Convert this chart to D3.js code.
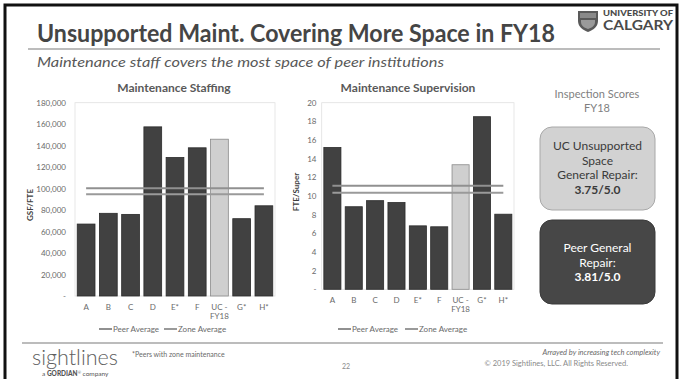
<!DOCTYPE html>
<html>
<head>
<meta charset="utf-8">
<script src="https://cdn.jsdelivr.net/npm/d3@7"></script>
<style>
  html, body { margin: 0; padding: 0; background: #fff; }
  svg { display: block; }
  text { font-family: Lato, "Open Sans", "Noto Sans", sans-serif; }
</style>
</head>
<body>
<svg id="slide" width="683" height="379"></svg>
<script>
// ---- data ----
const categories = ["A", "B", "C", "D", "E*", "F", "UC - FY18", "G*", "H*"];
const highlight = "UC - FY18";
const staffing = [67000, 77000, 76000, 157500, 129000, 138000, 146000, 72000, 84000];
const staffingPeerAvg = 100300;
const staffingZoneAvg = 94700;
const staffingTicks = [0, 20000, 40000, 60000, 80000, 100000, 120000, 140000, 160000, 180000];
const supervision = [15.2, 8.85, 9.5, 9.3, 6.8, 6.7, 13.35, 18.5, 8.05];
const supervisionPeerAvg = 11.1;
const supervisionZoneAvg = 10.35;
const supervisionTicks = [0, 2, 4, 6, 8, 10, 12, 14, 16, 18, 20];
const legendItems = ["Peer Average", "Zone Average"];
const ucScore = "3.75/5.0";
const peerScore = "3.81/5.0";

const svg = d3.select("#slide");

// ---- slide frame ----
svg.append("path")
  .attr("d", "M5,379 V5 H677 V379")
  .attr("fill", "none").attr("stroke", "#111").attr("stroke-width", 3);

// ---- header ----
svg.append("text")
  .attr("x", 37).attr("y", 42)
  .attr("font-size", 24).attr("font-weight", 700).attr("fill", "#454545")
  .attr("textLength", 518).attr("lengthAdjust", "spacingAndGlyphs")
  .text("Unsupported Maint. Covering More Space in FY18");
svg.append("line")
  .attr("x1", 28).attr("x2", 660).attr("y1", 49).attr("y2", 49)
  .attr("stroke", "#a6a6a6").attr("stroke-width", 1.5);
svg.append("text")
  .attr("x", 37).attr("y", 67)
  .attr("font-size", 14).attr("font-style", "italic").attr("fill", "#595959")
  .attr("textLength", 407).attr("lengthAdjust", "spacingAndGlyphs")
  .text("Maintenance staff covers the most space of peer institutions");

// university logo: crest and wordmark
const logo = svg.append("g");
logo.append("path")
  .attr("d", "M578,11 H598 V21 C598,27 593,30 588,32 C583,30 578,27 578,21 Z")
  .attr("fill", "#5a5a5a");
logo.append("rect").attr("x", 580).attr("y", 13).attr("width", 16).attr("height", 5).attr("fill", "#8a8a8a");
logo.append("path")
  .attr("d", "M581,20 H595 V22 C595,26 591,28 588,29 C585,28 581,26 581,22 Z")
  .attr("fill", "#9a9a9a");
logo.append("text")
  .attr("x", 603).attr("y", 15.5)
  .attr("font-size", 7.5).attr("font-weight", 900).attr("fill", "#4a4a4a")
  .attr("textLength", 70).attr("lengthAdjust", "spacingAndGlyphs")
  .text("UNIVERSITY OF");
logo.append("text")
  .attr("x", 603).attr("y", 30)
  .attr("font-size", 12.5).attr("font-weight", 700).attr("fill", "#4a4a4a")
  .attr("textLength", 70).attr("lengthAdjust", "spacingAndGlyphs")
  .text("CALGARY");

// ---- bar chart builder ----
function barChart(cfg) {
  const g = svg.append("g");
  const x = d3.scaleBand().domain(categories).range([cfg.x0, cfg.x1]).paddingInner(0.2).paddingOuter(0.1);
  const y = d3.scaleLinear().domain([0, cfg.max]).range([cfg.y0, cfg.y1]);

  // plot area outline
  g.append("rect")
    .attr("x", cfg.x0).attr("y", cfg.y1)
    .attr("width", cfg.x1 - cfg.x0).attr("height", cfg.y0 - cfg.y1)
    .attr("fill", "none").attr("stroke", "#e0e0e0").attr("stroke-width", 0.8);

  // title
  g.append("text")
    .attr("x", cfg.titleX).attr("y", 92).attr("text-anchor", "middle")
    .attr("font-size", 12).attr("font-weight", 700).attr("fill", "#595959")
    .text(cfg.title);

  // y axis
  const yAxis = d3.axisLeft(y).tickValues(cfg.ticks).tickSize(0).tickPadding(0)
    .tickFormat(v => v === 0 ? "-" : cfg.fmt(v));
  const ya = g.append("g").attr("transform", `translate(${cfg.tickX},0)`).call(yAxis);
  ya.select(".domain").remove();
  ya.selectAll("text").attr("font-size", 8).attr("fill", "#6a6a6a")
    .attr("font-family", "Lato, 'Open Sans', sans-serif");

  g.append("text")
    .attr("transform", `translate(${cfg.labelX},${cfg.labelY}) rotate(-90)`)
    .attr("text-anchor", "middle")
    .attr("font-size", 8).attr("font-weight", 700).attr("fill", "#404040")
    .text(cfg.yLabel);

  // bars
  g.selectAll("rect.bar").data(cfg.values).join("rect")
    .attr("class", "bar")
    .attr("x", (d, i) => x(categories[i]))
    .attr("width", x.bandwidth())
    .attr("y", d => y(d))
    .attr("height", d => y(0) - y(d))
    .attr("fill", (d, i) => categories[i] === highlight ? "#cfcfcf" : "#414141")
    .attr("stroke", (d, i) => categories[i] === highlight ? "#8a8a8a" : "#2b2b2b")
    .attr("stroke-width", 0.8);

  // average lines from first to last category centre
  const cx0 = x(categories[0]) + x.bandwidth() / 2;
  const cx1 = x(categories[categories.length - 1]) + x.bandwidth() / 2;
  [[cfg.peer, "#909090"], [cfg.zone, "#9a9a9a"]].forEach(([v, c]) => {
    g.append("line")
      .attr("x1", cx0).attr("x2", cx1).attr("y1", y(v)).attr("y2", y(v))
      .attr("stroke", c).attr("stroke-width", 2);
  });

  // x axis labels (multi-line)
  const xAxis = d3.axisBottom(x).tickSize(0).tickPadding(0);
  const xa = g.append("g").attr("transform", `translate(0,${cfg.xLabelY})`).call(xAxis);
  xa.select(".domain").remove();
  xa.selectAll("text")
    .attr("font-size", 8).attr("fill", "#6a6a6a").attr("dy", 0)
    .attr("font-family", "Lato, 'Open Sans', sans-serif")
    .each(function(d) {
      const t = d3.select(this);
      const parts = d.split(" - ");
      if (parts.length > 1) {
        t.text(null);
        t.append("tspan").attr("x", 0).attr("dy", 0).text(parts[0] + " -");
        t.append("tspan").attr("x", 0).attr("dy", 9).text(parts[1]);
      }
    });

  // legend
  const lg = g.append("g").attr("transform", `translate(0,${cfg.legendY})`);
  legendItems.forEach((name, i) => {
    const lx = cfg.legendX[i];
    lg.append("line").attr("x1", lx).attr("x2", lx + 13).attr("y1", 0).attr("y2", 0)
      .attr("stroke", i === 0 ? "#909090" : "#9a9a9a").attr("stroke-width", 2);
    lg.append("text").attr("x", lx + 14).attr("y", 3)
      .attr("font-size", 8).attr("fill", "#6a6a6a").text(name);
  });
}

barChart({
  title: "Maintenance Staffing", titleX: 174,
  values: staffing, peer: staffingPeerAvg, zone: staffingZoneAvg,
  max: 180000, ticks: staffingTicks, fmt: d3.format(","),
  x0: 75, x1: 275, y0: 296, y1: 102.7,
  tickX: 66, labelX: 33, labelY: 205, yLabel: "GSF/FTE",
  xLabelY: 309.5, legendY: 329, legendX: [99, 164]
});

barChart({
  title: "Maintenance Supervision", titleX: 408,
  values: supervision, peer: supervisionPeerAvg, zone: supervisionZoneAvg,
  max: 20, ticks: supervisionTicks, fmt: d3.format("d"),
  x0: 321.7, x1: 514, y0: 289.3, y1: 102.7,
  tickX: 316.5, labelX: 299, labelY: 192, yLabel: "FTE/Super",
  xLabelY: 303, legendY: 329, legendX: [338, 405]
});

// ---- inspection score panel ----
const panel = svg.append("g");
panel.append("text").attr("x", 597).attr("y", 98).attr("text-anchor", "middle")
  .attr("font-size", 11).attr("fill", "#7f7f7f").text("Inspection Scores");
panel.append("text").attr("x", 597).attr("y", 112).attr("text-anchor", "middle")
  .attr("font-size", 11).attr("fill", "#7f7f7f").text("FY18");

panel.append("rect").attr("x", 540).attr("y", 127).attr("width", 115).attr("height", 83)
  .attr("rx", 12).attr("fill", "#d2d2d2").attr("stroke", "#a8a8a8").attr("stroke-width", 1);
[["UC Unsupported", 150, 400], ["Space", 165, 400], ["General Repair:", 179, 400], [ucScore, 194, 700]]
  .forEach(([t, yy, w]) => panel.append("text").attr("x", 597.5).attr("y", yy)
    .attr("text-anchor", "middle").attr("font-size", 12).attr("font-weight", w)
    .attr("fill", "#3a3a3a").text(t));

panel.append("rect").attr("x", 540).attr("y", 220).attr("width", 115).attr("height", 84)
  .attr("rx", 12).attr("fill", "#474747").attr("stroke", "#3a3a3a").attr("stroke-width", 1);
[["Peer General", 252, 400], ["Repair:", 267, 400], [peerScore, 281, 700]]
  .forEach(([t, yy, w]) => panel.append("text").attr("x", 597.5).attr("y", yy)
    .attr("text-anchor", "middle").attr("font-size", 12).attr("font-weight", w)
    .attr("fill", "#ffffff").text(t));

// ---- footer ----
svg.append("line").attr("x1", 22).attr("x2", 663).attr("y1", 343).attr("y2", 343)
  .attr("stroke", "#a6a6a6").attr("stroke-width", 1.5);
svg.append("text").attr("x", 32).attr("y", 365)
  .attr("font-size", 21).attr("font-weight", 300).attr("fill", "#5e5e5e")
  .attr("textLength", 86).attr("lengthAdjust", "spacingAndGlyphs")
  .text("sightlines");
const gord = svg.append("text").attr("x", 42).attr("y", 376)
  .attr("font-size", 6.5).attr("fill", "#555");
gord.append("tspan").text("a ");
gord.append("tspan").attr("font-weight", 900).text("GORDIAN");
gord.append("tspan").attr("font-size", 4).attr("dy", -2).text("®");
gord.append("tspan").attr("dy", 2).text(" company");

svg.append("text").attr("x", 132).attr("y", 357)
  .attr("font-size", 7).attr("fill", "#6a6a6a").text("*Peers with zone maintenance");
svg.append("text").attr("x", 342).attr("y", 369)
  .attr("font-size", 7).attr("fill", "#8a8a8a").text("22");
svg.append("text").attr("x", 660).attr("y", 355).attr("text-anchor", "end")
  .attr("font-size", 7.5).attr("font-style", "italic").attr("fill", "#6a6a6a")
  .text("Arrayed by increasing tech complexity");
svg.append("text").attr("x", 628).attr("y", 366).attr("text-anchor", "end")
  .attr("font-size", 7.5).attr("fill", "#8a8a8a")
  .text("© 2019 Sightlines, LLC. All Rights Reserved.");
</script>
</body>
</html>
